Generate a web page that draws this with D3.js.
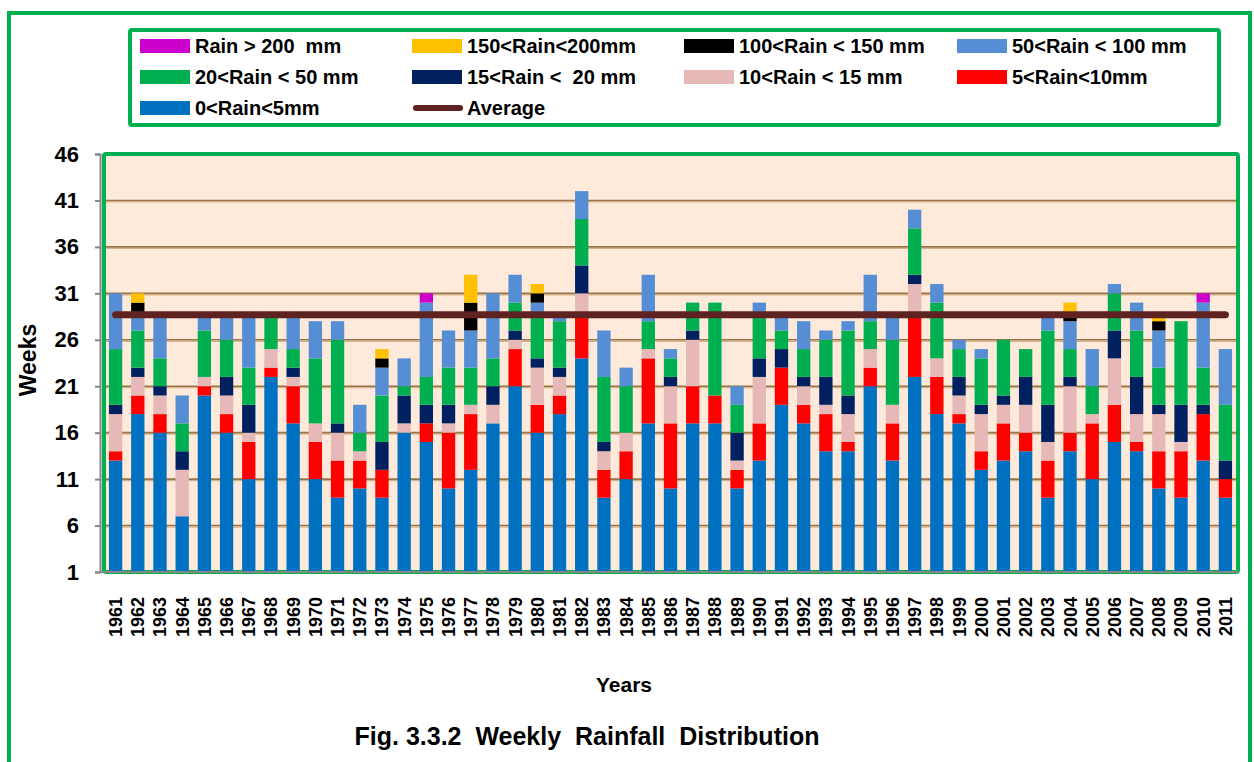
<!DOCTYPE html>
<html>
<head>
<meta charset="utf-8">
<script src="https://cdn.jsdelivr.net/npm/d3@7"></script>
<style>
  body { margin: 0; background: #fff; }
  text { font-family: "Liberation Sans", Arial, sans-serif; font-weight: bold; fill: #000; white-space: pre; }
</style>
</head>
<body>
<div id="chart"></div>
<script>
const width = 1254,
  height = 762,
  margin = { top: 154, bottom: 190, left: 104, right: 16 };

// data (weeks per rainfall class, per year)
const years = d3.range(1961, 2012).map(String);

const rain0to5 =    [13,18,16,7,20,16,11,22,17,11, 9,10,9,16,15,10,12,17,21,16, 18,24,9,11,17,10,17,17,10,13, 19,17,14,14,21,13,22,18,17,12, 13,14,9,14,11,15,14,10,9,13,9];
const rain5to10 =   [1,2,2,0,1,2,4,1,4,4, 4,3,3,0,2,6,6,0,4,3, 2,5,3,3,7,7,4,3,2,4, 4,2,4,1,2,4,7,4,1,2, 4,2,4,2,6,4,1,4,5,5,2];
const rain10to15 =  [4,2,2,5,1,2,1,2,1,2, 3,1,0,1,0,1,1,2,1,4, 2,2,2,2,1,4,5,0,1,5, 0,2,1,3,2,2,3,2,2,4, 2,3,2,5,1,5,3,4,1,0,0];
const rain15to20 =  [1,1,1,2,0,2,3,0,1,0, 1,0,3,3,2,2,0,2,1,1, 1,3,1,0,0,1,1,0,3,2, 2,1,3,2,0,0,1,0,2,1, 1,3,4,1,0,3,4,1,4,1,2];
const rain20to50 =  [6,4,3,3,5,4,4,4,2,7, 9,2,5,1,3,4,4,3,3,5, 5,5,7,5,3,2,3,10,3,5, 2,3,4,7,3,7,5,6,3,5, 6,3,8,3,3,4,5,4,9,4,6];
const rain50to100 = [6,2,5,3,2,3,6,0,4,4, 2,3,3,3,8,4,4,7,3,1, 1,3,5,2,5,1,0,0,2,1, 2,3,1,1,5,3,2,2,1,1, 0,0,2,3,4,1,3,4,0,7,6];
const rain100to150 =[0,1,0,0,0,0,0,0,0,0, 0,0,1,0,0,0,3,0,0,1, 0,0,0,0,0,0,0,0,0,0, 0,0,0,0,0,0,0,0,0,0, 0,0,0,1,0,0,0,1,0,0,0];
const rain150to200 =[0,1,0,0,0,0,0,0,0,0, 0,0,1,0,0,0,3,0,0,1, 0,0,0,0,0,0,0,0,0,0, 0,0,0,0,0,0,0,0,0,0, 0,0,0,1,0,0,0,1,0,0,0];
const rainOver200 = [0,0,0,0,0,0,0,0,0,0, 0,0,0,0,1,0,0,0,0,0, 0,0,0,0,0,0,0,0,0,0, 0,0,0,0,0,0,0,0,0,0, 0,0,0,0,0,0,0,0,0,1,0];
const averageWeeks = 28.7;

const yTicks = [1, 6, 11, 16, 21, 26, 31, 36, 41, 46];

const series = [
  { key: "0<Rain<5mm", values: rain0to5, color: "#0070C0" },
  { key: "5<Rain<10mm", values: rain5to10, color: "#FF0000" },
  { key: "10<Rain < 15 mm", values: rain10to15, color: "#E6B9B8" },
  { key: "15<Rain <  20 mm", values: rain15to20, color: "#002060" },
  { key: "20<Rain < 50 mm", values: rain20to50, color: "#00B050" },
  { key: "50<Rain < 100 mm", values: rain50to100, color: "#558ED5" },
  { key: "100<Rain < 150 mm", values: rain100to150, color: "#000000" },
  { key: "150<Rain<200mm", values: rain150to200, color: "#FFC000" },
  { key: "Rain > 200  mm", values: rainOver200, color: "#CC00CC" },
];

// legend order as in the figure
const legendOrder = [
  "Rain > 200  mm", "150<Rain<200mm", "100<Rain < 150 mm", "50<Rain < 100 mm",
  "20<Rain < 50 mm", "15<Rain <  20 mm", "10<Rain < 15 mm", "5<Rain<10mm",
  "0<Rain<5mm", "Average",
];

const table = years.map((y, i) => {
  const row = { year: y };
  series.forEach(s => { row[s.key] = s.values[i]; });
  return row;
});

const stack = d3.stack().keys(series.map(s => s.key));
const stacked = stack(table);
const colorOf = d3.scaleOrdinal(series.map(s => s.key), series.map(s => s.color));

const svg = d3.select("#chart")
  .append("svg")
  .attr("width", width)
  .attr("height", height);

// outer frame
svg.append("rect")
  .attr("x", 9).attr("y", 13)
  .attr("width", 1241).attr("height", 770)
  .attr("fill", "none")
  .attr("stroke", "#00B050")
  .attr("stroke-width", 4);

const xScale = d3.scaleBand()
  .domain(years)
  .range([104.5, 1236.5])
  .paddingInner(0.4)
  .paddingOuter(0.2);

const yScale = d3.scaleLinear()
  .domain([1, 46])
  .range([572, 154]);

// plot area
svg.append("rect")
  .attr("x", 104).attr("y", 154)
  .attr("width", 1134).attr("height", 418)
  .attr("fill", "#FDEADA")
  .attr("stroke", "#00B050")
  .attr("stroke-width", 4)
  .attr("rx", 2);

// gridlines
const grid = svg.append("g").attr("class", "grid");
grid.selectAll(".g-light")
  .data(yTicks.slice(1, -1))
  .join("line")
  .attr("x1", 106).attr("x2", 1236)
  .attr("y1", d => yScale(d) + 1.5).attr("y2", d => yScale(d) + 1.5)
  .attr("stroke", "#D8B48C")
  .attr("stroke-width", 1.2);
grid.selectAll(".g-dark")
  .data(yTicks.slice(1, -1))
  .join("line")
  .attr("x1", 106).attr("x2", 1236)
  .attr("y1", d => yScale(d)).attr("y2", d => yScale(d))
  .attr("stroke", "#9A7448")
  .attr("stroke-width", 1.6);

// bars
svg.append("g")
  .selectAll("g")
  .data(stacked)
  .join("g")
  .attr("fill", d => colorOf(d.key))
  .selectAll("rect")
  .data(d => d.filter(v => v[1] > v[0]))
  .join("rect")
  .attr("x", d => xScale(d.data.year))
  .attr("width", xScale.bandwidth())
  .attr("y", d => yScale(d[1]))
  .attr("height", d => yScale(Math.max(d[0], 1)) - yScale(d[1]));

// average line
const first = years[0], last = years[years.length - 1];
svg.append("line")
  .attr("x1", xScale(first) + xScale.bandwidth() / 2)
  .attr("x2", xScale(last) + xScale.bandwidth() / 2)
  .attr("y1", yScale(averageWeeks))
  .attr("y2", yScale(averageWeeks))
  .attr("stroke", "#5E2321")
  .attr("stroke-width", 7)
  .attr("stroke-linecap", "round");

// y axis
const yAxis = d3.axisLeft(yScale).tickValues(yTicks).tickSize(5).tickPadding(16);
const gy = svg.append("g")
  .attr("class", "axis y-axis")
  .attr("transform", "translate(100,0)")
  .call(yAxis);
gy.select(".domain").attr("stroke", "#868686").attr("stroke-width", 2);
gy.selectAll(".tick line").attr("stroke", "#868686").attr("stroke-width", 2);
gy.selectAll(".tick text")
  .attr("font-size", 22)
  .attr("font-family", "Liberation Sans, Arial, sans-serif")
  .attr("font-weight", "bold")
  .attr("fill", "#000");

// x axis baseline
svg.append("line")
  .attr("x1", 100).attr("x2", 1238)
  .attr("y1", 572).attr("y2", 572)
  .attr("stroke", "#868686")
  .attr("stroke-width", 2);

// x labels
svg.append("g")
  .selectAll("text")
  .data(years)
  .join("text")
  .attr("transform", d => `translate(${xScale(d) + xScale.bandwidth() / 2},597) rotate(-90)`)
  .attr("text-anchor", "end")
  .attr("dy", "0.36em")
  .attr("font-size", 18)
  .text(d => d);

svg.append("text")
  .attr("transform", "translate(36,360) rotate(-90)")
  .attr("text-anchor", "middle")
  .attr("font-size", 23)
  .text("Weeks");

svg.append("text")
  .attr("x", 624).attr("y", 692)
  .attr("text-anchor", "middle")
  .attr("font-size", 21)
  .text("Years");

svg.append("text")
  .attr("x", 587).attr("y", 745)
  .attr("text-anchor", "middle")
  .attr("font-size", 25)
  .text("Fig. 3.3.2  Weekly  Rainfall  Distribution");

// legend
svg.append("rect")
  .attr("x", 130).attr("y", 30)
  .attr("width", 1089).attr("height", 95)
  .attr("fill", "#fff")
  .attr("stroke", "#00B050")
  .attr("stroke-width", 4)
  .attr("rx", 2);

const colX = [140, 412, 684, 957],
  rowY = [46, 77, 108];

const legend = svg.append("g")
  .selectAll("g")
  .data(legendOrder)
  .join("g")
  .attr("transform", (d, i) => `translate(${colX[i % 4]},${rowY[Math.floor(i / 4)]})`);

legend.filter(d => d !== "Average")
  .append("rect")
  .attr("x", 0).attr("y", -7)
  .attr("width", 50).attr("height", 14)
  .attr("fill", d => colorOf(d));

legend.filter(d => d === "Average")
  .append("line")
  .attr("x1", 4).attr("x2", 48)
  .attr("y1", 0).attr("y2", 0)
  .attr("stroke", "#5E2321")
  .attr("stroke-width", 6)
  .attr("stroke-linecap", "round");

legend.append("text")
  .attr("x", 55)
  .attr("dy", "0.36em")
  .attr("font-size", 20)
  .text(d => d);
</script>
</body>
</html>
